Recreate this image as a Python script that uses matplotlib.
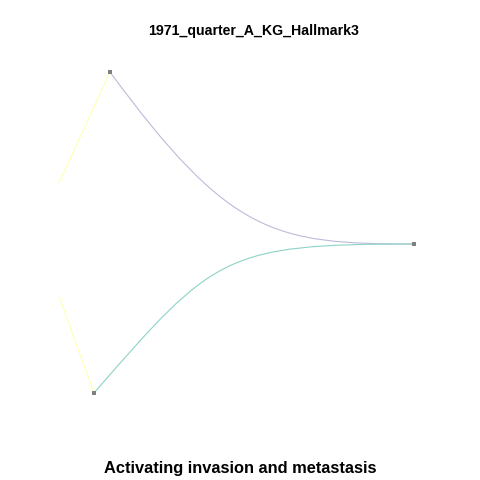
import matplotlib
matplotlib.use("Agg")
import matplotlib.pyplot as plt
from matplotlib.path import Path
from matplotlib.patches import PathPatch

# Node positions (pixel grid of the original 480x480 render, y grows downward)
node_names = ["root", "upper", "lower"]
node_x = [414, 110, 94]
node_y = [244, 72, 393]

# Main edges: child -> root, with tangent direction at the child end
edge_from = ["upper", "lower"]
edge_to = ["root", "root"]
edge_colors = ["#BEBADA", "#8DD3C7"]
start_slope = [1.36, -1.15]
start_reach = [120, 120]
end_reach = [140, 190]

# Leaf edges that run off the left side of the panel
leaf_from = ["upper", "lower"]
leaf_end_x = [59, 59]
leaf_end_y = [183, 296]
leaf_color = "#FFFFB3"

title = "1971_quarter_A_KG_Hallmark3"
caption = "Activating invasion and metastasis"

pos = {n: (x, y) for n, x, y in zip(node_names, node_x, node_y)}

fig = plt.figure(figsize=(4.8, 4.8), dpi=100)
ax = fig.add_axes([0, 0, 1, 1])
ax.set_xlim(0, 480)
ax.set_ylim(480, 0)
ax.axis("off")

# Curved edges drawn as cubic Bezier paths
for src, dst, col, s, a, b in zip(edge_from, edge_to, edge_colors,
                                  start_slope, start_reach, end_reach):
    x0, y0 = pos[src]
    x3, y3 = pos[dst]
    verts = [(x0, y0), (x0 + a, y0 + s * a), (x3 - b, y3), (x3, y3)]
    codes = [Path.MOVETO, Path.CURVE4, Path.CURVE4, Path.CURVE4]
    ax.add_patch(PathPatch(Path(verts, codes), facecolor="none",
                           edgecolor=col, lw=0.8))

for src, ex, ey in zip(leaf_from, leaf_end_x, leaf_end_y):
    x0, y0 = pos[src]
    ax.plot([x0, ex], [y0, ey], color=leaf_color, lw=0.8)

ax.scatter(node_x, node_y, s=6, marker="s", color="#808080", zorder=3,
           linewidths=0)

fig.text(254 / 480, 1 - 31 / 480, title, ha="center", va="center",
         fontsize=10.2, fontweight="bold", family="Liberation Sans")
fig.text(240 / 480, 1 - 469 / 480, caption, ha="center", va="center",
         fontsize=11.75, fontweight="bold", family="Liberation Sans")

fig.savefig("out.png", dpi=100)
